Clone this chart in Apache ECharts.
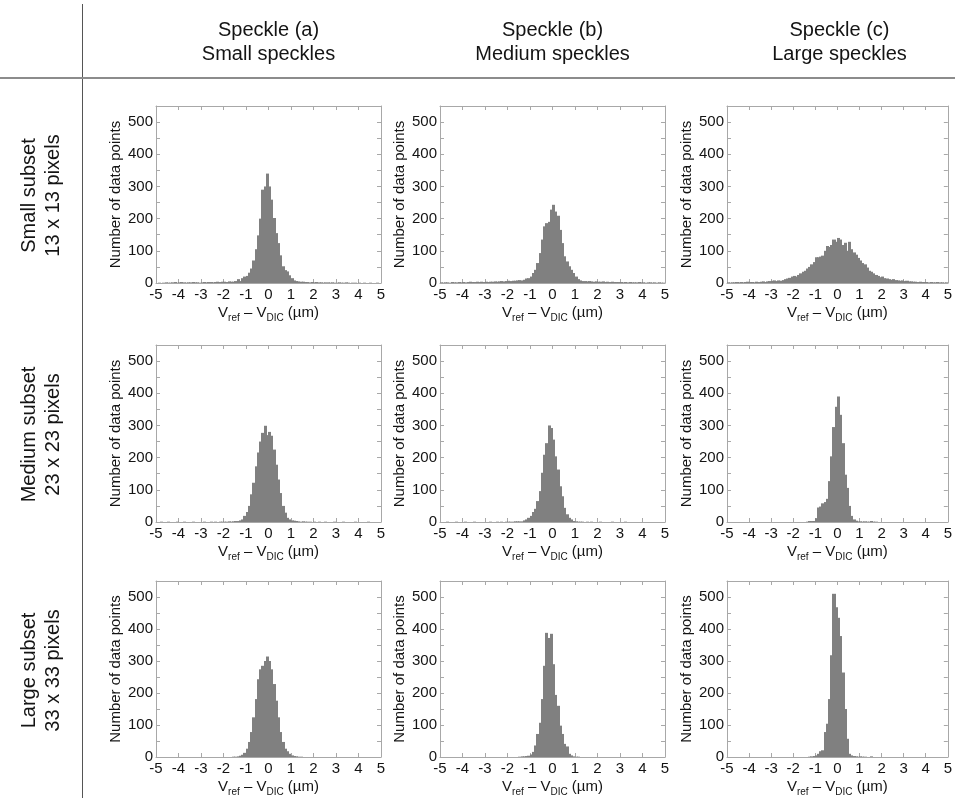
<!DOCTYPE html>
<html><head><meta charset="utf-8">
<script src="https://cdn.jsdelivr.net/npm/echarts@6/dist/echarts.min.js"></script>
<style>html,body{margin:0;padding:0;background:#fff}#c{width:955px;height:798px}</style>
</head><body><div id="c"></div>
<script>
// ---------- data ----------
const columnTitles = ['Speckle (a)\nSmall speckles', 'Speckle (b)\nMedium speckles', 'Speckle (c)\nLarge speckles'];
const rowTitles = ['Small subset\n13 x 13 pixels', 'Medium subset\n23 x 23 pixels', 'Large subset\n33 x 33 pixels'];
const yAxisTitle = 'Number of data points';
const xAxisTitleRich = '{v|V}{s|ref}{v| \u2013 V}{s|DIC}{v| (\u00b5m)}';
const xMin = -5, xMax = 5, xStep = 1;
const yMin = 0, yMax = 550, yTickStep = 50, yLabelStep = 100;
const binStart = -5, binWidth = 0.1;

// counts per 0.1-wide bin from -5 to 5 (100 bins)
const smallSubset_a = [
0,1,0,1,2,1,1,2,3,1, 2,3,2,1,2,2,3,2,2,1, 2,3,2,3,3,2,3,4,3,4, 4,3,5,4,4,6,12,6,15,20,
22,32,45,70,105,148,200,290,300,340, 300,259,202,155,124,86,52,40,36,24, 15,8,6,5,4,4,3,3,2,3,
2,3,2,2,1,2,2,1,2,1, 1,2,1,1,2,1,0,1,1,0, 1,0,1,0,0,1,0,0,1,0];
const smallSubset_b = [
2,1,2,2,1,3,2,2,3,2, 3,2,3,4,3,3,4,3,4,3, 4,3,4,4,5,4,5,6,5,6, 7,6,7,7,8,9,8,10,14,15,
20,31,41,62,93,135,176,186,190,228, 243,222,209,165,124,83,67,52,41,31, 20,12,8,6,6,5,6,5,4,5,
4,4,5,3,4,3,4,3,3,3, 3,2,3,2,3,2,2,2,3,2, 2,1,2,2,1,2,1,2,1,1];
const smallSubset_c = [
2,1,2,2,3,2,3,2,3,4, 3,3,2,4,3,4,5,3,5,6, 7,8,6,8,7,9,12,14,16,20, 22,20,25,30,35,38,45,50,58,65,
80,80,82,85,100,115,112,118,135,128, 140,135,118,125,100,128,105,95,88,78, 70,62,58,48,38,35,30,25,22,18,
20,15,14,12,10,12,9,8,7,8, 6,7,5,5,4,4,3,4,3,3, 3,2,3,2,2,3,2,2,1,2];
const mediumSubset_a = [
0,0,1,0,0,1,0,0,0,1, 0,0,1,0,0,0,1,0,0,0, 0,1,0,0,1,0,1,0,1,1, 1,1,2,1,2,3,3,5,8,19,
31,50,86,122,173,216,250,277,299,270, 280,268,225,178,132,90,50,29,13,8, 5,4,3,2,1,2,1,1,1,0,
1,0,1,0,0,1,0,0,0,1, 0,0,0,1,0,0,0,0,1,0, 0,0,0,0,1,0,0,0,0,0];
const mediumSubset_b = [
0,0,0,1,0,0,0,1,0,0, 0,1,0,0,0,1,0,0,0,0, 0,0,1,0,0,1,0,1,0,1, 1,1,1,2,2,2,2,5,8,13,
19,31,41,65,96,153,209,245,300,292, 256,204,163,111,80,44,24,13,8,3, 2,1,1,1,0,1,0,1,0,0,
0,1,0,0,0,0,1,0,0,0, 0,0,1,0,0,0,0,0,0,0, 0,0,0,0,0,0,0,0,0,0];
const mediumSubset_c = [
0,0,0,0,0,0,0,0,0,0, 0,0,0,0,0,0,0,0,0,0, 0,0,0,0,0,0,0,0,0,0, 0,0,0,0,0,0,1,3,3,3,
12,45,48,58,62,72,127,204,295,358, 390,333,245,147,106,50,19,8,4,2, 2,1,2,1,1,3,1,1,0,0,
0,0,0,0,0,0,0,0,0,0, 0,0,0,0,0,0,0,0,0,0, 0,0,0,0,0,0,0,0,0,0];
const largeSubset_a = [
0,0,0,0,0,0,0,0,0,0, 0,0,0,0,0,0,0,0,0,0, 0,0,0,0,0,0,0,0,0,0, 0,0,0,0,1,1,2,4,7,13,
26,47,78,124,181,243,274,285,300,314, 300,274,228,176,124,78,47,26,18,10, 5,3,2,1,1,0,0,0,0,0,
0,0,0,0,0,0,0,0,0,0, 0,0,0,0,0,0,0,0,0,0, 0,0,0,0,0,0,0,0,0,0];
const largeSubset_b = [
0,0,0,0,0,0,0,0,0,0, 0,0,0,0,0,0,0,0,0,0, 0,0,0,0,0,0,0,0,0,0, 0,0,0,0,0,1,2,2,3,4,
8,16,36,72,107,181,285,388,372,385, 290,194,160,98,72,41,33,10,5,2, 1,1,0,0,0,0,0,0,0,0,
0,0,0,0,0,0,0,0,0,0, 0,0,0,0,0,0,0,0,0,0, 0,0,0,0,0,0,0,0,0,0];
const largeSubset_c = [
0,0,0,0,0,0,0,0,0,0, 0,0,0,0,0,0,0,0,0,0, 0,0,0,0,0,0,0,0,0,0, 0,0,0,0,0,0,0,1,2,3,
5,10,18,21,78,104,181,318,510,468, 435,378,264,150,57,10,5,3,2,1, 2,1,1,0,0,2,0,0,0,0,
0,0,0,0,0,0,0,0,0,0, 0,0,0,0,0,0,0,0,0,0, 0,0,0,0,0,0,0,0,0,0];

const panels = [
  [smallSubset_a, smallSubset_b, smallSubset_c],
  [mediumSubset_a, mediumSubset_b, mediumSubset_c],
  [largeSubset_a, largeSubset_b, largeSubset_c]
];

// ---------- layout ----------
const FONT = '"Liberation Sans", Arial, Helvetica, sans-serif';
const colLeft = [156, 440, 727];
const rowTop = [106, 345, 581];
const plotW = 225, plotH = 177;
const boxColor = '#a8a8a8';
const barColor = '#808080';
const textColor = '#141414';

const grid = [], xAxis = [], yAxis = [], series = [];
let g = 0;
for (let r = 0; r < 3; r++) {
  for (let c = 0; c < 3; c++) {
    grid.push({left: colLeft[c], top: rowTop[r], width: plotW, height: plotH, show: false});
    const axLine = {show: true, onZero: false, lineStyle: {color: boxColor, width: 1}};
    const tick = {show: true, inside: true, length: 4, lineStyle: {color: boxColor}};
    xAxis.push({
      gridIndex: g, type: 'value', min: xMin, max: xMax, interval: xStep, position: 'bottom',
      axisLine: axLine, axisTick: tick, splitLine: {show: false},
      axisLabel: {margin: 4, fontSize: 15, fontFamily: FONT, color: textColor},
      name: xAxisTitleRich, nameLocation: 'middle', nameGap: 20,
      nameTextStyle: {rich: {
        v: {fontSize: 15, fontFamily: FONT, color: textColor, lineHeight: 20},
        s: {fontSize: 10, fontFamily: FONT, color: textColor, lineHeight: 10, verticalAlign: 'bottom'}
      }}
    });
    xAxis.push({
      gridIndex: g, type: 'value', min: xMin, max: xMax, interval: xStep, position: 'top',
      axisLine: axLine, axisTick: tick, splitLine: {show: false}, axisLabel: {show: false}
    });
    yAxis.push({
      gridIndex: g, type: 'value', min: yMin, max: yMax, interval: yTickStep, position: 'left',
      axisLine: axLine, axisTick: tick, splitLine: {show: false},
      axisLabel: {margin: 3, fontSize: 15, fontFamily: FONT, color: textColor,
        formatter: v => (v % yLabelStep === 0 ? String(v) : '')},
      name: yAxisTitle, nameLocation: 'middle', nameGap: 33,
      nameTextStyle: {fontSize: 15, fontFamily: FONT, color: textColor}
    });
    yAxis.push({
      gridIndex: g, type: 'value', min: yMin, max: yMax, interval: yTickStep, position: 'right',
      axisLine: axLine, axisTick: tick, splitLine: {show: false}, axisLabel: {show: false}
    });
    const counts = panels[r][c];
    const data = counts.map((n, i) => [binStart + i * binWidth, binStart + (i + 1) * binWidth, n]);
    series.push({
      type: 'custom', xAxisIndex: 2 * g, yAxisIndex: 2 * g, silent: true,
      encode: {x: [0, 1], y: 2},
      data: data,
      renderItem: function (params, api) {
        const n = api.value(2);
        if (!n) return null;
        const p0 = api.coord([api.value(0), n]);
        const p1 = api.coord([api.value(1), 0]);
        const xl = Math.floor(p0[0]), xr = Math.ceil(p1[0]);
        return {type: 'rect',
          shape: {x: xl, y: p0[1], width: xr - xl, height: p1[1] - p0[1]},
          style: {fill: barColor}};
      },
      z: 1
    });
    g++;
  }
}

const graphic = [
  {type: 'line', shape: {x1: 82.5, y1: 4, x2: 82.5, y2: 798}, style: {stroke: '#555', lineWidth: 1}, silent: true},
  {type: 'line', shape: {x1: 0, y1: 78, x2: 955, y2: 78}, style: {stroke: '#8c8c8c', lineWidth: 2}, silent: true}
];
columnTitles.forEach((t, c) => {
  graphic.push({type: 'text', x: colLeft[c] + plotW / 2, y: 42, silent: true,
    style: {text: t, fontSize: 20, lineHeight: 24, fontFamily: FONT, fill: textColor, align: 'center', verticalAlign: 'middle'}});
});
rowTitles.forEach((t, r) => {
  graphic.push({type: 'text', x: 41, y: rowTop[r] + plotH / 2 + 1, rotation: Math.PI / 2, silent: true,
    style: {text: t, fontSize: 20, lineHeight: 24, fontFamily: FONT, fill: textColor, align: 'center', verticalAlign: 'middle'}});
});

const chart = echarts.init(document.getElementById('c'), null, {renderer: 'canvas'});
chart.setOption({
  backgroundColor: '#ffffff',
  animation: false,
  grid, xAxis, yAxis, series, graphic
});
</script>
</body></html>
